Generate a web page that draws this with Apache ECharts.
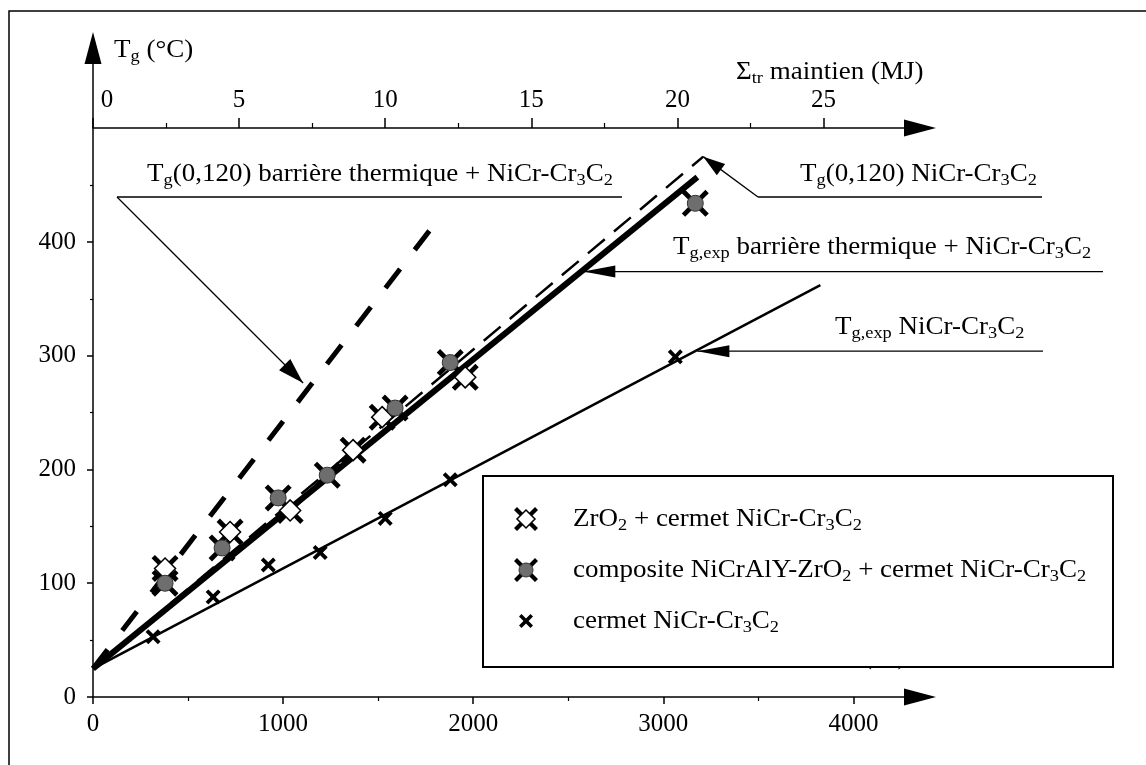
<!DOCTYPE html>
<html>
<head>
<meta charset="utf-8">
<script src="https://cdn.jsdelivr.net/npm/echarts@6/dist/echarts.min.js"></script>
<style>
html, body { margin: 0; padding: 0; background: #fff; }
#main { width: 1146px; height: 765px; }
</style>
</head>
<body>
<div id="main"></div>
<script>
// points mesurés : [P_tb (W), T_g (°C)]
var zro2Data = [[379, 113], [721, 145], [1037, 164], [1368, 217], [1521, 246], [1958, 281]];
var compositeData = [[379, 100], [679, 131], [974, 175], [1232, 195], [1589, 254], [1879, 294], [3168, 434]];
var cermetData = [[316, 53], [632, 88], [922, 116], [1195, 127], [1537, 157], [1879, 191], [3063, 299]];

// droites (début, fin)
var expCermetLine = [[0, 25], [3826, 362]];
var expBarriereLine = [[0, 25], [3179, 457]];
var calcCermetLine = [[0, 25], [3210, 475]];
var calcBarriereLine = [[0, 25], [1784, 413]];

// graduations
var xTicks = [0, 1000, 2000, 3000, 4000];
var xMinorTicks = [500, 1500, 2500, 3500];
var yTicks = [0, 100, 200, 300, 400];
var yMinorTicks = [50, 150, 250, 350, 450];
var topTicks = [0, 5, 10, 15, 20, 25];
var topMinorTicks = [2.5, 7.5, 12.5, 17.5, 22.5];

var X_MAX = 4350, Y_MAX = 570.5;
var W_PER_MJ = 153.7;   // échelle de l'axe du haut

var FONT = 'Liberation Serif';
var FS = 25, SX = 1.08;   // taille du texte, étirement horizontal des étiquettes
var rich = { s: { fontSize: 17, fontFamily: FONT, verticalAlign: 'bottom', lineHeight: 17 } };

// croix épaisse (t = demi-épaisseur du bras, sur une grille 20x20)
function xPoints(t) {
    return [[t, 0], [10, 10 - t], [20 - t, 0], [20, t], [10 + t, 10], [20, 20 - t], [20 - t, 20], [10, 10 + t], [t, 20], [0, 20 - t], [10 - t, 10], [0, t]];
}
function xPath(t) {
    return 'path://' + xPoints(t).map(function (p, i) { return (i ? 'L' : 'M') + p[0] + ',' + p[1]; }).join('') + 'Z';
}
function xPoly(cx, cy, s, t) {
    return xPoints(t).map(function (p) { return [cx - s / 2 + p[0] * s / 20, cy - s / 2 + p[1] * s / 20]; });
}

var chart = echarts.init(document.getElementById('main'));

function hiddenAxis(extra) {
    var a = { type: 'value', axisLine: { show: false, onZero: false }, axisLabel: { show: false }, splitLine: { show: false } };
    for (var k in extra) a[k] = extra[k];
    return a;
}

var arrowLine = { show: true, onZero: false, symbol: ['none', 'triangle'], symbolSize: [17, 32], lineStyle: { color: '#000', width: 1.5 } };
var numFmt = function (v) { return String(v); };

function lineSerie(data, width, dash) {
    return {
        type: 'line', xAxisIndex: 0, yAxisIndex: 0, data: data, showSymbol: false, silent: true, z: 2,
        lineStyle: { color: '#000', width: width, type: dash || 'solid', cap: 'butt' }
    };
}
function scatterSerie(data, symbol, size, style, z) {
    style.opacity = 1;
    return { type: 'scatter', xAxisIndex: 0, yAxisIndex: 0, data: data, symbol: symbol, symbolSize: size, itemStyle: style, z: z, silent: true };
}

chart.setOption({
    animation: false,
    grid: [
        { left: 93, right: 226, top: 48, bottom: 68 },
        { left: 93, right: 226, top: 128, bottom: 68 }
    ],
    xAxis: [
        {   // P_tb
            type: 'value', gridIndex: 0, position: 'bottom', min: 0, max: X_MAX,
            axisLine: arrowLine,
            axisTick: { customValues: xTicks, length: 7, lineStyle: { color: '#000', width: 1.5 } },
            axisLabel: { customValues: xTicks, color: '#000', fontFamily: FONT, fontSize: FS, margin: 15, formatter: numFmt },
            splitLine: { show: false }
        },
        hiddenAxis({ gridIndex: 0, position: 'bottom', min: 0, max: X_MAX,
            axisTick: { customValues: xMinorTicks, length: 4, lineStyle: { color: '#000', width: 1.2 } } }),
        {   // Σtr maintien
            type: 'value', gridIndex: 1, position: 'top', min: 0, max: X_MAX / W_PER_MJ,
            axisLine: arrowLine,
            axisTick: { customValues: topTicks, length: 10, lineStyle: { color: '#000', width: 1.5 } },
            axisLabel: {
                customValues: topTicks, color: '#000', fontFamily: FONT, fontSize: FS, margin: 15,
                formatter: function (v) { return v === 0 ? '{z|0}' : String(v); },
                rich: { z: { fontFamily: FONT, fontSize: FS, padding: [0, 0, 0, 28] } }
            },
            splitLine: { show: false }
        },
        hiddenAxis({ gridIndex: 1, position: 'top', min: 0, max: X_MAX / W_PER_MJ,
            axisTick: { customValues: topMinorTicks, length: 5, lineStyle: { color: '#000', width: 1.2 } } })
    ],
    yAxis: [
        {
            type: 'value', gridIndex: 0, position: 'left', min: 0, max: Y_MAX,
            axisLine: arrowLine,
            axisTick: { customValues: yTicks, length: 6, lineStyle: { color: '#000', width: 1.5 } },
            axisLabel: { customValues: yTicks, color: '#000', fontFamily: FONT, fontSize: FS, margin: 17, formatter: numFmt },
            splitLine: { show: false }
        },
        hiddenAxis({ gridIndex: 0, position: 'left', min: 0, max: Y_MAX,
            axisTick: { customValues: yMinorTicks, length: 3, lineStyle: { color: '#000', width: 1.2 } } }),
        hiddenAxis({ gridIndex: 1, min: 0, max: 1, show: false })
    ],
    series: [
        lineSerie(expCermetLine, 2.5),
        lineSerie(expBarriereLine, 6),
        lineSerie(calcCermetLine, 2.5, [22, 12]),
        lineSerie(calcBarriereLine, 5, [24, 24]),
        scatterSerie(zro2Data, xPath(2.5), 27, { color: '#000' }, 3),
        scatterSerie(zro2Data, 'diamond', 21, { color: '#fff', borderColor: '#000', borderWidth: 1.5 }, 4),
        scatterSerie(compositeData, xPath(2.5), 27, { color: '#000' }, 3),
        scatterSerie(compositeData, 'circle', 16, { color: '#6e6e6e', borderColor: '#333', borderWidth: 1 }, 4),
        scatterSerie(cermetData, xPath(3.6), 15, { color: '#000' }, 3)
    ]
});

// ---------- annotations, légende, cadre ----------
function px(p) { return chart.convertToPixel({ xAxisIndex: 0, yAxisIndex: 0 }, p); }

function txt(text, x, y, align) {
    return {
        type: 'text', x: x, y: y, scaleX: SX, z: 10, silent: true,
        style: { text: text, rich: rich, fontFamily: FONT, fontSize: FS, lineHeight: 31, fill: '#000', align: align || 'left', verticalAlign: 'middle' }
    };
}
function seg(a, b, w) {
    return { type: 'line', z: 10, silent: true, shape: { x1: a[0], y1: a[1], x2: b[0], y2: b[1] }, style: { stroke: '#000', lineWidth: w || 1.3 } };
}
function head(from, tip, len, half) {
    var dx = tip[0] - from[0], dy = tip[1] - from[1], d = Math.sqrt(dx * dx + dy * dy);
    var ux = dx / d, uy = dy / d;
    var bx = tip[0] - ux * len, by = tip[1] - uy * len;
    return {
        type: 'polygon', z: 10, silent: true,
        shape: { points: [tip, [bx - uy * half, by + ux * half], [bx + uy * half, by - ux * half]] },
        style: { fill: '#000' }
    };
}

var g = [];
// cadre
g.push({ type: 'rect', z: 0, silent: true, shape: { x: 9, y: 11, width: 1200, height: 800 }, style: { fill: 'none', stroke: '#000', lineWidth: 1.5 } });
// titres des axes
g.push(txt('T{s|g} (°C)', 114, 50));
g.push(txt('Σ{s|tr} maintien (MJ)', 736, 72));
g.push(txt('P{s|tb} (W)', 827, 657));

// T_g(0,120) barrière thermique + NiCr-Cr3C2
var tip1 = px([1105, 276]);
g.push(txt('T{s|g}(0,120) barrière thermique + NiCr-Cr{s|3}C{s|2}', 147, 174));
g.push(seg([117, 197], [622, 197]));
g.push(seg([117, 197], tip1));
g.push(head([117, 197], tip1, 26, 8));

// T_g(0,120) NiCr-Cr3C2
var tip2 = px([3210, 475]);
g.push(txt('T{s|g}(0,120) NiCr-Cr{s|3}C{s|2}', 800, 174));
g.push(seg([758, 197], [1042, 197]));
g.push(seg([758, 197], tip2));
g.push(head([758, 197], tip2, 22, 7));

// T_g,exp barrière thermique + NiCr-Cr3C2
var tip3 = px([2579, 374]);
g.push(txt('T{s|g,exp} barrière thermique + NiCr-Cr{s|3}C{s|2}', 673, 247));
g.push(seg(tip3, [1103, tip3[1]]));
g.push(head([1103, tip3[1]], tip3, 32, 6));

// T_g,exp NiCr-Cr3C2
var tip4 = px([3179, 304]);
g.push(txt('T{s|g,exp} NiCr-Cr{s|3}C{s|2}', 835, 327));
g.push(seg(tip4, [1043, tip4[1]]));
g.push(head([1043, tip4[1]], tip4, 32, 6));

// légende
g.push({ type: 'rect', z: 10, silent: true, shape: { x: 483, y: 476, width: 630, height: 191 }, style: { fill: '#fff', stroke: '#000', lineWidth: 2 } });
var rows = [519, 570, 621], ix = 526;
g.push({ type: 'polygon', z: 11, silent: true, shape: { points: xPoly(ix, rows[0], 24, 2.5) }, style: { fill: '#000' } });
g.push({ type: 'polygon', z: 12, silent: true, shape: { points: [[ix, rows[0] - 9], [ix + 9, rows[0]], [ix, rows[0] + 9], [ix - 9, rows[0]]] }, style: { fill: '#fff', stroke: '#000', lineWidth: 1.5 } });
g.push({ type: 'polygon', z: 11, silent: true, shape: { points: xPoly(ix, rows[1], 24, 2.5) }, style: { fill: '#000' } });
g.push({ type: 'circle', z: 12, silent: true, shape: { cx: ix, cy: rows[1], r: 7 }, style: { fill: '#6e6e6e', stroke: '#333', lineWidth: 1 } });
g.push({ type: 'polygon', z: 11, silent: true, shape: { points: xPoly(ix, rows[2], 14, 3.6) }, style: { fill: '#000' } });
g.push(txt('ZrO{s|2} + cermet NiCr-Cr{s|3}C{s|2}', 573, rows[0]));
g.push(txt('composite NiCrAlY-ZrO{s|2} + cermet NiCr-Cr{s|3}C{s|2}', 573, rows[1]));
g.push(txt('cermet NiCr-Cr{s|3}C{s|2}', 573, rows[2]));

chart.setOption({ graphic: g });
</script>
</body>
</html>
